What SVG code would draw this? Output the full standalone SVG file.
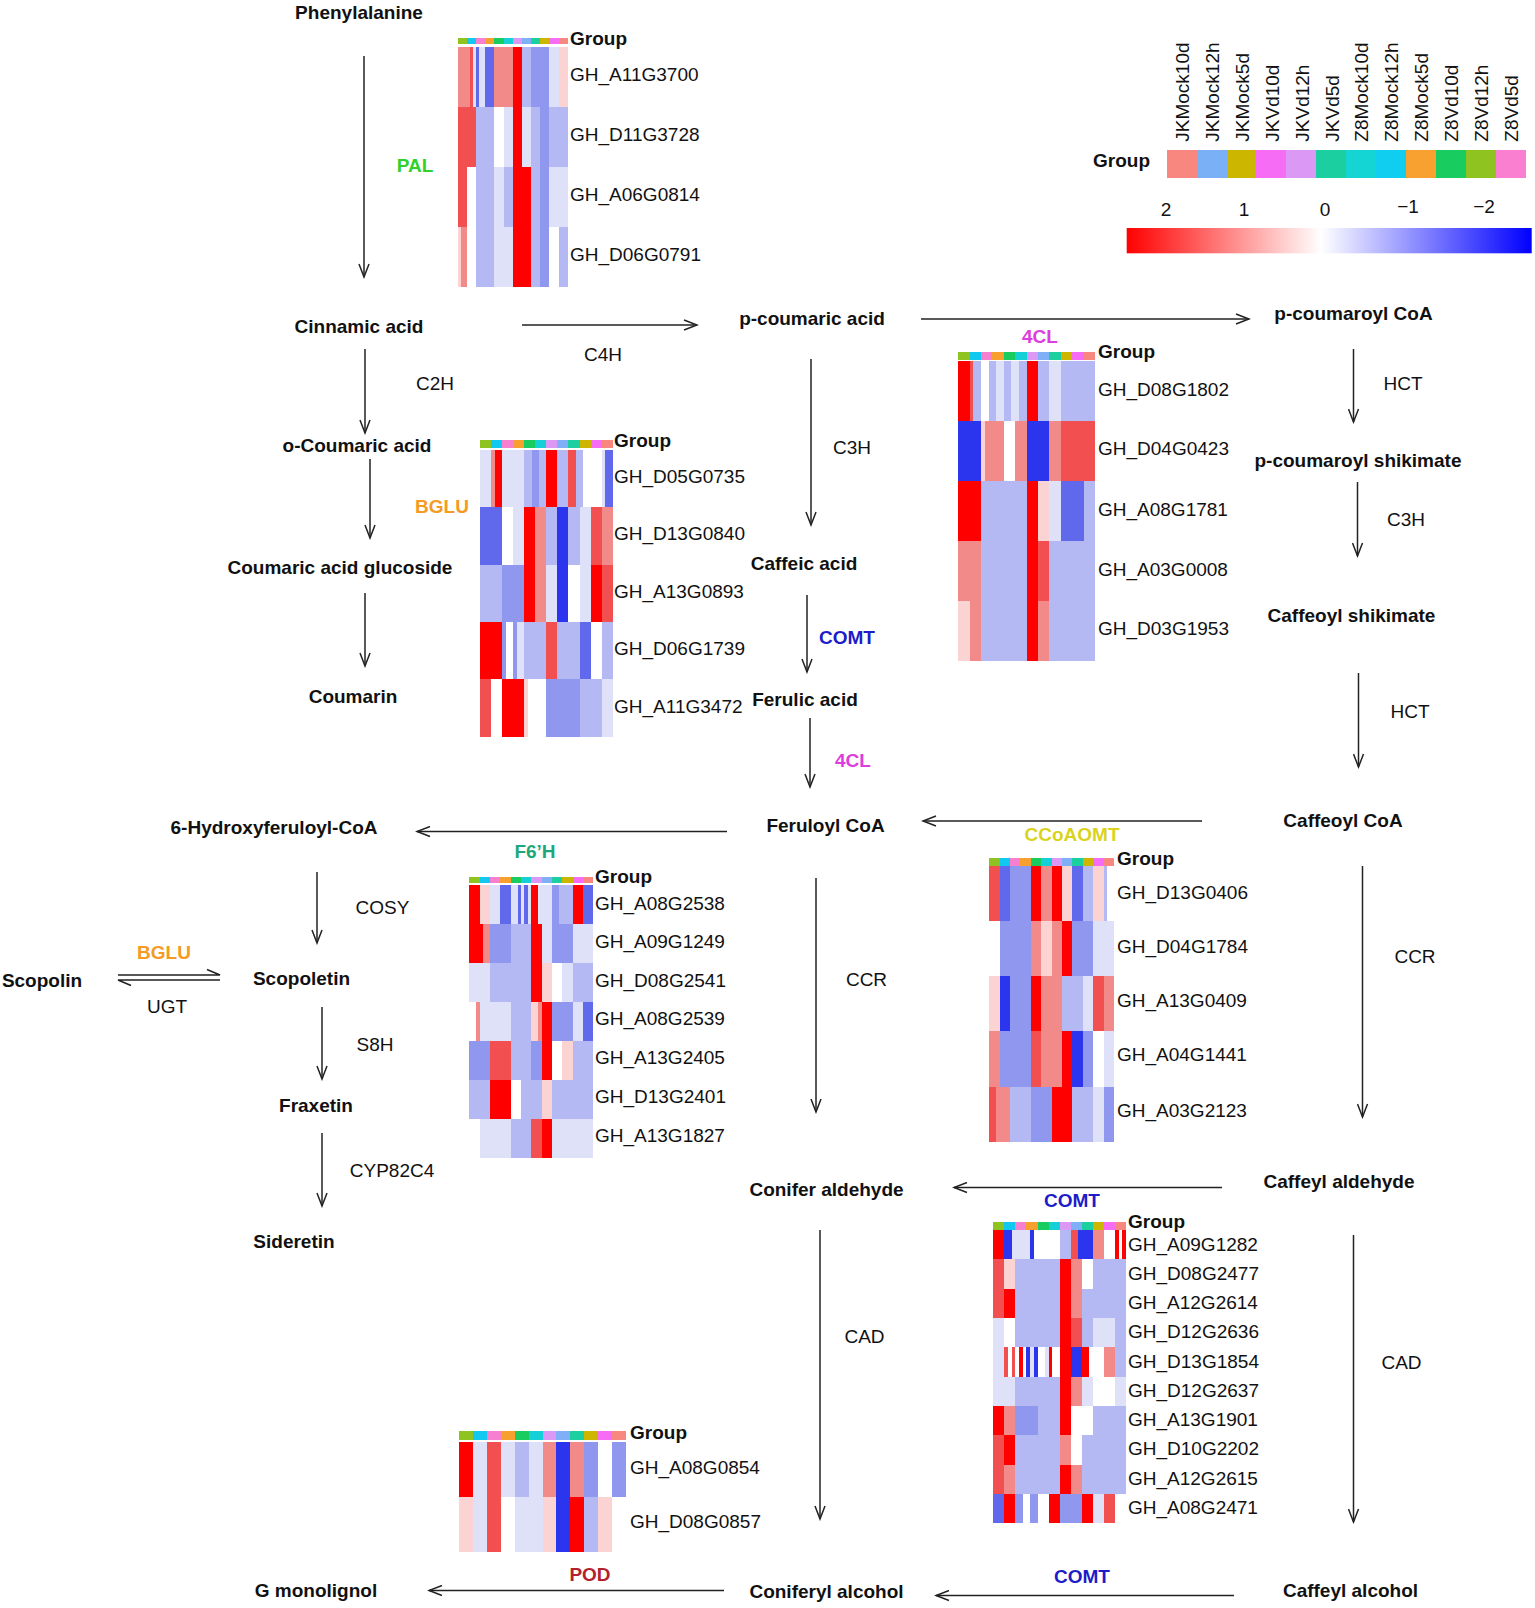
<svg xmlns="http://www.w3.org/2000/svg" xmlns:xlink="http://www.w3.org/1999/xlink" width="1535" height="1608" viewBox="0 0 1535 1608">
<style>
text{font-family:"Liberation Sans",Arial,sans-serif;font-size:19px;fill:#111}
.n{font-weight:bold;text-anchor:middle}
.e{text-anchor:middle}
.ec{font-weight:bold;text-anchor:middle}
.gt{font-weight:bold}
.arr{stroke:#222;stroke-width:1.5;fill:none;marker-end:url(#ah)}
.ln{stroke:#222;stroke-width:1.5;fill:none}
.hm{shape-rendering:crispEdges}
.R{fill:#ff0000}.r{fill:#f25050}.p{fill:#f38a8a}.q{fill:#fbd3d3}.w{fill:#ffffff}
.l{fill:#dfe1f8}.b{fill:#b4b9f3}.m{fill:#9097ef}.M{fill:#6068ec}.B{fill:#2b35ee}
</style>
<defs>
<marker id="ah" markerUnits="userSpaceOnUse" markerWidth="16" markerHeight="12" refX="14" refY="6" orient="auto">
<path d="M1,1 L14,6 L1,11" fill="none" stroke="#222" stroke-width="1.5"/>
</marker>
<g id="gb" shape-rendering="crispEdges">
<rect x="0" y="0" width="3" height="1" fill="#8fc31f"/>
<rect x="3" y="0" width="3" height="1" fill="#10c8f0"/>
<rect x="6" y="0" width="3" height="1" fill="#f77fd0"/>
<rect x="9" y="0" width="3" height="1" fill="#f7a030"/>
<rect x="12" y="0" width="3" height="1" fill="#18cc60"/>
<rect x="15" y="0" width="3" height="1" fill="#16d0d8"/>
<rect x="18" y="0" width="3" height="1" fill="#dc98f5"/>
<rect x="21" y="0" width="3" height="1" fill="#7fb0f7"/>
<rect x="24" y="0" width="3" height="1" fill="#1ccfa0"/>
<rect x="27" y="0" width="3" height="1" fill="#cdb600"/>
<rect x="30" y="0" width="3" height="1" fill="#f76cf5"/>
<rect x="33" y="0" width="3" height="1" fill="#f8877f"/>
</g>
<linearGradient id="cs" x1="0" y1="0" x2="1" y2="0">
<stop offset="0" stop-color="#ff0000"/>
<stop offset="0.48" stop-color="#ffffff"/>
<stop offset="1" stop-color="#0000ff"/>
</linearGradient>
</defs>

<!-- legend -->
<g id="legend">
<text class="gt" x="1093" y="167">Group</text>
<g shape-rendering="crispEdges">
<rect x="1166.7" y="150" width="29.9" height="28.3" fill="#f8877f"/>
<rect x="1196.6" y="150" width="29.9" height="28.3" fill="#7ab0f5"/>
<rect x="1226.5" y="150" width="29.9" height="28.3" fill="#cdb600"/>
<rect x="1256.4" y="150" width="29.9" height="28.3" fill="#f76cf5"/>
<rect x="1286.3" y="150" width="29.9" height="28.3" fill="#dc98f5"/>
<rect x="1316.2" y="150" width="29.9" height="28.3" fill="#1ccfa0"/>
<rect x="1346.1" y="150" width="29.9" height="28.3" fill="#14d4d4"/>
<rect x="1376" y="150" width="29.9" height="28.3" fill="#10cef0"/>
<rect x="1405.9" y="150" width="29.9" height="28.3" fill="#f8a030"/>
<rect x="1435.8" y="150" width="29.9" height="28.3" fill="#18cc60"/>
<rect x="1465.7" y="150" width="29.9" height="28.3" fill="#8fc31f"/>
<rect x="1495.6" y="150" width="29.9" height="28.3" fill="#fb7fd0"/>
</g>
<text transform="translate(1189,141.7) rotate(-90)">JKMock10d</text>
<text transform="translate(1219,141.7) rotate(-90)">JKMock12h</text>
<text transform="translate(1249,141.7) rotate(-90)">JKMock5d</text>
<text transform="translate(1278.5,141.7) rotate(-90)">JKVd10d</text>
<text transform="translate(1308.5,141.7) rotate(-90)">JKVd12h</text>
<text transform="translate(1338.5,141.7) rotate(-90)">JKVd5d</text>
<text transform="translate(1368,141.7) rotate(-90)">Z8Mock10d</text>
<text transform="translate(1398,141.7) rotate(-90)">Z8Mock12h</text>
<text transform="translate(1428,141.7) rotate(-90)">Z8Mock5d</text>
<text transform="translate(1457.5,141.7) rotate(-90)">Z8Vd10d</text>
<text transform="translate(1487.5,141.7) rotate(-90)">Z8Vd12h</text>
<text transform="translate(1517.5,141.7) rotate(-90)">Z8Vd5d</text>
<text class="e" x="1166" y="216">2</text>
<text class="e" x="1244" y="216">1</text>
<text class="e" x="1325" y="216">0</text>
<text class="e" x="1408" y="213">−1</text>
<text class="e" x="1484" y="213">−2</text>
<rect x="1126.7" y="228" width="405" height="25.3" fill="url(#cs)"/>
</g>

<!-- heatmaps -->
<g id="hm-pal">
<use href="#gb" transform="translate(457.7,38.3) scale(3.056,6)"/>
<g class="hm" transform="translate(457.7,46.7) scale(3.056,60)">
<rect x="0" y="0" width="4" height="1" class="p"/><rect x="4" y="0" width="1" height="1" class="r"/><rect x="5" y="0" width="1" height="1" class="l"/><rect x="6" y="0" width="1" height="1" class="M"/><rect x="7" y="0" width="2" height="1" class="l"/><rect x="9" y="0" width="3" height="1" class="M"/><rect x="12" y="0" width="6" height="1" class="p"/><rect x="18" y="0" width="3" height="1" class="R"/><rect x="21" y="0" width="3" height="1" class="b"/><rect x="24" y="0" width="6" height="1" class="m"/><rect x="30" y="0" width="3" height="1" class="l"/><rect x="33" y="0" width="3" height="1" class="q"/>
<rect x="0" y="1" width="6" height="1" class="r"/><rect x="6" y="1" width="6" height="1" class="b"/><rect x="12" y="1" width="3" height="1" class="w"/><rect x="15" y="1" width="3" height="1" class="l"/><rect x="18" y="1" width="3" height="1" class="R"/><rect x="21" y="1" width="3" height="1" class="l"/><rect x="24" y="1" width="3" height="1" class="b"/><rect x="27" y="1" width="3" height="1" class="m"/><rect x="30" y="1" width="6" height="1" class="b"/>
<rect x="0" y="2" width="3" height="1" class="r"/><rect x="3" y="2" width="3" height="1" class="w"/><rect x="6" y="2" width="6" height="1" class="b"/><rect x="12" y="2" width="3" height="1" class="l"/><rect x="15" y="2" width="3" height="1" class="b"/><rect x="18" y="2" width="6" height="1" class="R"/><rect x="24" y="2" width="3" height="1" class="b"/><rect x="27" y="2" width="3" height="1" class="m"/><rect x="30" y="2" width="6" height="1" class="l"/>
<rect x="0" y="3" width="1" height="1" class="q"/><rect x="1" y="3" width="2" height="1" class="p"/><rect x="3" y="3" width="3" height="1" class="w"/><rect x="6" y="3" width="6" height="1" class="b"/><rect x="12" y="3" width="6" height="1" class="l"/><rect x="18" y="3" width="6" height="1" class="R"/><rect x="24" y="3" width="3" height="1" class="b"/><rect x="27" y="3" width="3" height="1" class="m"/><rect x="30" y="3" width="3" height="1" class="w"/><rect x="33" y="3" width="3" height="1" class="b"/>
</g>
<text class="gt" x="570" y="45">Group</text>
<text x="570" y="81">GH_A11G3700</text>
<text x="570" y="141">GH_D11G3728</text>
<text x="570" y="201">GH_A06G0814</text>
<text x="570" y="261">GH_D06G0791</text>
</g>

<g id="hm-bglu">
<use href="#gb" transform="translate(480,440) scale(3.686,8.3)"/>
<g class="hm" transform="translate(480,450) scale(3.686,57.33)">
<rect x="0" y="0" width="3" height="1" class="l"/><rect x="3" y="0" width="1" height="1" class="p"/><rect x="4" y="0" width="2" height="1" class="R"/><rect x="6" y="0" width="6" height="1" class="l"/><rect x="12" y="0" width="2" height="1" class="b"/><rect x="14" y="0" width="2" height="1" class="m"/><rect x="16" y="0" width="2" height="1" class="b"/><rect x="18" y="0" width="3" height="1" class="R"/><rect x="21" y="0" width="3" height="1" class="b"/><rect x="24" y="0" width="2" height="1" class="r"/><rect x="26" y="0" width="2" height="1" class="b"/><rect x="28" y="0" width="5" height="1" class="w"/><rect x="33" y="0" width="1" height="1" class="l"/><rect x="34" y="0" width="2" height="1" class="M"/>
<rect x="0" y="1" width="6" height="1" class="M"/><rect x="6" y="1" width="3" height="1" class="w"/><rect x="9" y="1" width="3" height="1" class="l"/><rect x="12" y="1" width="3" height="1" class="R"/><rect x="15" y="1" width="3" height="1" class="p"/><rect x="18" y="1" width="3" height="1" class="b"/><rect x="21" y="1" width="3" height="1" class="B"/><rect x="24" y="1" width="3" height="1" class="b"/><rect x="27" y="1" width="3" height="1" class="l"/><rect x="30" y="1" width="3" height="1" class="r"/><rect x="33" y="1" width="3" height="1" class="p"/>
<rect x="0" y="2" width="6" height="1" class="b"/><rect x="6" y="2" width="6" height="1" class="m"/><rect x="12" y="2" width="3" height="1" class="R"/><rect x="15" y="2" width="3" height="1" class="p"/><rect x="18" y="2" width="3" height="1" class="l"/><rect x="21" y="2" width="3" height="1" class="B"/><rect x="24" y="2" width="3" height="1" class="w"/><rect x="27" y="2" width="3" height="1" class="l"/><rect x="30" y="2" width="3" height="1" class="R"/><rect x="33" y="2" width="3" height="1" class="r"/>
<rect x="0" y="3" width="6" height="1" class="R"/><rect x="6" y="3" width="1" height="1" class="m"/><rect x="7" y="3" width="2" height="1" class="w"/><rect x="9" y="3" width="1" height="1" class="m"/><rect x="10" y="3" width="2" height="1" class="l"/><rect x="12" y="3" width="6" height="1" class="b"/><rect x="18" y="3" width="3" height="1" class="r"/><rect x="21" y="3" width="6" height="1" class="b"/><rect x="27" y="3" width="3" height="1" class="M"/><rect x="30" y="3" width="3" height="1" class="w"/><rect x="33" y="3" width="3" height="1" class="b"/>
<rect x="0" y="4" width="3" height="1" class="r"/><rect x="3" y="4" width="3" height="1" class="w"/><rect x="6" y="4" width="6" height="1" class="R"/><rect x="12" y="4" width="1" height="1" class="q"/><rect x="13" y="4" width="5" height="1" class="w"/><rect x="18" y="4" width="9" height="1" class="m"/><rect x="27" y="4" width="6" height="1" class="b"/><rect x="33" y="4" width="3" height="1" class="l"/>
</g>
<text class="gt" x="614" y="447">Group</text>
<text x="614" y="483">GH_D05G0735</text>
<text x="614" y="540">GH_D13G0840</text>
<text x="614" y="598">GH_A13G0893</text>
<text x="614" y="655">GH_D06G1739</text>
<text x="614" y="713">GH_A11G3472</text>
</g>

<g id="hm-4cl">
<use href="#gb" transform="translate(958.3,351.7) scale(3.797,8.5)"/>
<g class="hm" transform="translate(958.3,361) scale(3.797,60)">
<rect x="0" y="0" width="3" height="1" class="R"/><rect x="3" y="0" width="1" height="1" class="r"/><rect x="4" y="0" width="2" height="1" class="b"/><rect x="6" y="0" width="2" height="1" class="w"/><rect x="8" y="0" width="2" height="1" class="b"/><rect x="10" y="0" width="2" height="1" class="l"/><rect x="12" y="0" width="2" height="1" class="b"/><rect x="14" y="0" width="2" height="1" class="l"/><rect x="16" y="0" width="2" height="1" class="b"/><rect x="18" y="0" width="3" height="1" class="R"/><rect x="21" y="0" width="3" height="1" class="b"/><rect x="24" y="0" width="3" height="1" class="l"/><rect x="27" y="0" width="9" height="1" class="b"/>
<rect x="0" y="1" width="6" height="1" class="B"/><rect x="6" y="1" width="1" height="1" class="q"/><rect x="7" y="1" width="5" height="1" class="p"/><rect x="12" y="1" width="3" height="1" class="w"/><rect x="15" y="1" width="3" height="1" class="p"/><rect x="18" y="1" width="6" height="1" class="B"/><rect x="24" y="1" width="3" height="1" class="p"/><rect x="27" y="1" width="9" height="1" class="r"/>
<rect x="0" y="2" width="6" height="1" class="R"/><rect x="6" y="2" width="12" height="1" class="b"/><rect x="18" y="2" width="3" height="1" class="R"/><rect x="21" y="2" width="3" height="1" class="q"/><rect x="24" y="2" width="3" height="1" class="l"/><rect x="27" y="2" width="6" height="1" class="M"/><rect x="33" y="2" width="3" height="1" class="b"/>
<rect x="0" y="3" width="6" height="1" class="p"/><rect x="6" y="3" width="12" height="1" class="b"/><rect x="18" y="3" width="3" height="1" class="R"/><rect x="21" y="3" width="3" height="1" class="r"/><rect x="24" y="3" width="12" height="1" class="b"/>
<rect x="0" y="4" width="3" height="1" class="q"/><rect x="3" y="4" width="3" height="1" class="p"/><rect x="6" y="4" width="12" height="1" class="b"/><rect x="18" y="4" width="3" height="1" class="R"/><rect x="21" y="4" width="3" height="1" class="p"/><rect x="24" y="4" width="12" height="1" class="b"/>
</g>
<text class="ec" x="1040" y="343" style="fill:#dd3ddd">4CL</text>
<text class="gt" x="1098" y="358">Group</text>
<text x="1098" y="396">GH_D08G1802</text>
<text x="1098" y="455">GH_D04G0423</text>
<text x="1098" y="516">GH_A08G1781</text>
<text x="1098" y="576">GH_A03G0008</text>
<text x="1098" y="635">GH_D03G1953</text>
</g>

<g id="hm-f6h">
<use href="#gb" transform="translate(469.3,876.7) scale(3.444,6.5)"/>
<g class="hm" transform="translate(469.3,885) scale(3.444,39.05)">
<rect x="0" y="0" width="3" height="1" class="R"/><rect x="3" y="0" width="3" height="1" class="q"/><rect x="6" y="0" width="3" height="1" class="l"/><rect x="9" y="0" width="3" height="1" class="M"/><rect x="12" y="0" width="2" height="1" class="l"/><rect x="14" y="0" width="1" height="1" class="M"/><rect x="15" y="0" width="1" height="1" class="l"/><rect x="16" y="0" width="1" height="1" class="M"/><rect x="17" y="0" width="1" height="1" class="l"/><rect x="18" y="0" width="2" height="1" class="R"/><rect x="20" y="0" width="4" height="1" class="l"/><rect x="24" y="0" width="2" height="1" class="m"/><rect x="26" y="0" width="4" height="1" class="b"/><rect x="30" y="0" width="3" height="1" class="R"/><rect x="33" y="0" width="3" height="1" class="M"/>
<rect x="0" y="1" width="4" height="1" class="R"/><rect x="4" y="1" width="2" height="1" class="p"/><rect x="6" y="1" width="6" height="1" class="m"/><rect x="12" y="1" width="6" height="1" class="b"/><rect x="18" y="1" width="3" height="1" class="R"/><rect x="21" y="1" width="3" height="1" class="l"/><rect x="24" y="1" width="6" height="1" class="m"/><rect x="30" y="1" width="6" height="1" class="l"/>
<rect x="0" y="2" width="6" height="1" class="l"/><rect x="6" y="2" width="12" height="1" class="b"/><rect x="18" y="2" width="3" height="1" class="R"/><rect x="21" y="2" width="3" height="1" class="q"/><rect x="24" y="2" width="3" height="1" class="w"/><rect x="27" y="2" width="3" height="1" class="l"/><rect x="30" y="2" width="6" height="1" class="b"/>
<rect x="0" y="3" width="2" height="1" class="w"/><rect x="2" y="3" width="1" height="1" class="p"/><rect x="3" y="3" width="9" height="1" class="l"/><rect x="12" y="3" width="6" height="1" class="b"/><rect x="18" y="3" width="2" height="1" class="q"/><rect x="20" y="3" width="1" height="1" class="p"/><rect x="21" y="3" width="3" height="1" class="R"/><rect x="24" y="3" width="6" height="1" class="m"/><rect x="30" y="3" width="3" height="1" class="l"/><rect x="33" y="3" width="3" height="1" class="M"/>
<rect x="0" y="4" width="6" height="1" class="m"/><rect x="6" y="4" width="6" height="1" class="r"/><rect x="12" y="4" width="6" height="1" class="b"/><rect x="18" y="4" width="3" height="1" class="m"/><rect x="21" y="4" width="3" height="1" class="R"/><rect x="24" y="4" width="3" height="1" class="w"/><rect x="27" y="4" width="3" height="1" class="q"/><rect x="30" y="4" width="6" height="1" class="b"/>
<rect x="0" y="5" width="6" height="1" class="b"/><rect x="6" y="5" width="6" height="1" class="R"/><rect x="12" y="5" width="3" height="1" class="w"/><rect x="15" y="5" width="6" height="1" class="b"/><rect x="21" y="5" width="3" height="1" class="q"/><rect x="24" y="5" width="12" height="1" class="b"/>
<rect x="0" y="6" width="3" height="1" class="w"/><rect x="3" y="6" width="9" height="1" class="l"/><rect x="12" y="6" width="6" height="1" class="b"/><rect x="18" y="6" width="3" height="1" class="r"/><rect x="21" y="6" width="3" height="1" class="R"/><rect x="24" y="6" width="12" height="1" class="l"/>
</g>
<text class="ec" x="535" y="858" style="fill:#1fa77c">F6’H</text>
<text class="gt" x="595" y="883">Group</text>
<text x="595" y="910">GH_A08G2538</text>
<text x="595" y="948">GH_A09G1249</text>
<text x="595" y="987">GH_D08G2541</text>
<text x="595" y="1025">GH_A08G2539</text>
<text x="595" y="1064">GH_A13G2405</text>
<text x="595" y="1103">GH_D13G2401</text>
<text x="595" y="1142">GH_A13G1827</text>
</g>

<g id="hm-ccoaomt">
<use href="#gb" transform="translate(989.3,858) scale(3.464,7.5)"/>
<g class="hm" transform="translate(989.3,866) scale(3.464,55.14)">
<rect x="0" y="0" width="3" height="1" class="r"/><rect x="3" y="0" width="3" height="1" class="M"/><rect x="6" y="0" width="6" height="1" class="m"/><rect x="12" y="0" width="3" height="1" class="R"/><rect x="15" y="0" width="3" height="1" class="p"/><rect x="18" y="0" width="3" height="1" class="R"/><rect x="21" y="0" width="3" height="1" class="q"/><rect x="24" y="0" width="3" height="1" class="M"/><rect x="27" y="0" width="3" height="1" class="b"/><rect x="30" y="0" width="3" height="1" class="q"/><rect x="33" y="0" width="1" height="1" class="b"/><rect x="34" y="0" width="2" height="1" class="w"/>
<rect x="0" y="1" width="3" height="1" class="w"/><rect x="3" y="1" width="9" height="1" class="m"/><rect x="12" y="1" width="3" height="1" class="p"/><rect x="15" y="1" width="3" height="1" class="q"/><rect x="18" y="1" width="3" height="1" class="p"/><rect x="21" y="1" width="3" height="1" class="R"/><rect x="24" y="1" width="6" height="1" class="m"/><rect x="30" y="1" width="6" height="1" class="l"/>
<rect x="0" y="2" width="3" height="1" class="q"/><rect x="3" y="2" width="3" height="1" class="B"/><rect x="6" y="2" width="6" height="1" class="m"/><rect x="12" y="2" width="3" height="1" class="R"/><rect x="15" y="2" width="6" height="1" class="p"/><rect x="21" y="2" width="6" height="1" class="b"/><rect x="27" y="2" width="3" height="1" class="l"/><rect x="30" y="2" width="3" height="1" class="r"/><rect x="33" y="2" width="3" height="1" class="p"/>
<rect x="0" y="3" width="3" height="1" class="p"/><rect x="3" y="3" width="9" height="1" class="m"/><rect x="12" y="3" width="3" height="1" class="r"/><rect x="15" y="3" width="6" height="1" class="p"/><rect x="21" y="3" width="3" height="1" class="R"/><rect x="24" y="3" width="3" height="1" class="B"/><rect x="27" y="3" width="3" height="1" class="m"/><rect x="30" y="3" width="3" height="1" class="w"/><rect x="33" y="3" width="3" height="1" class="l"/>
<rect x="0" y="4" width="2" height="1" class="r"/><rect x="2" y="4" width="4" height="1" class="p"/><rect x="6" y="4" width="6" height="1" class="b"/><rect x="12" y="4" width="6" height="1" class="m"/><rect x="18" y="4" width="6" height="1" class="R"/><rect x="24" y="4" width="6" height="1" class="b"/><rect x="30" y="4" width="3" height="1" class="l"/><rect x="33" y="4" width="3" height="1" class="m"/>
</g>
<text class="ec" x="1072" y="841" style="fill:#d9d31e">CCoAOMT</text>
<text class="gt" x="1117" y="865">Group</text>
<text x="1117" y="899">GH_D13G0406</text>
<text x="1117" y="953">GH_D04G1784</text>
<text x="1117" y="1007">GH_A13G0409</text>
<text x="1117" y="1061">GH_A04G1441</text>
<text x="1117" y="1117">GH_A03G2123</text>
</g>

<g id="hm-comt">
<use href="#gb" transform="translate(993.3,1221.5) scale(3.686,8)"/>
<g class="hm" transform="translate(993.3,1230) scale(3.686,29.33)">
<rect x="0" y="0" width="3" height="1" class="R"/><rect x="3" y="0" width="2" height="1" class="B"/><rect x="5" y="0" width="5" height="1" class="l"/><rect x="10" y="0" width="1" height="1" class="B"/><rect x="11" y="0" width="7" height="1" class="w"/><rect x="18" y="0" width="3" height="1" class="b"/><rect x="21" y="0" width="2" height="1" class="r"/><rect x="23" y="0" width="4" height="1" class="B"/><rect x="27" y="0" width="3" height="1" class="p"/><rect x="30" y="0" width="3" height="1" class="w"/><rect x="33" y="0" width="1" height="1" class="R"/><rect x="34" y="0" width="1" height="1" class="w"/><rect x="35" y="0" width="1" height="1" class="R"/>
<rect x="0" y="1" width="3" height="1" class="r"/><rect x="3" y="1" width="3" height="1" class="q"/><rect x="6" y="1" width="12" height="1" class="b"/><rect x="18" y="1" width="3" height="1" class="R"/><rect x="21" y="1" width="3" height="1" class="p"/><rect x="24" y="1" width="3" height="1" class="w"/><rect x="27" y="1" width="9" height="1" class="b"/>
<rect x="0" y="2" width="3" height="1" class="r"/><rect x="3" y="2" width="3" height="1" class="R"/><rect x="6" y="2" width="12" height="1" class="b"/><rect x="18" y="2" width="3" height="1" class="R"/><rect x="21" y="2" width="3" height="1" class="p"/><rect x="24" y="2" width="12" height="1" class="b"/>
<rect x="0" y="3" width="3" height="1" class="l"/><rect x="3" y="3" width="3" height="1" class="w"/><rect x="6" y="3" width="12" height="1" class="b"/><rect x="18" y="3" width="3" height="1" class="R"/><rect x="21" y="3" width="3" height="1" class="r"/><rect x="24" y="3" width="3" height="1" class="b"/><rect x="27" y="3" width="6" height="1" class="l"/><rect x="33" y="3" width="3" height="1" class="b"/>
<rect x="0" y="4" width="3" height="1" class="l"/><rect x="3" y="4" width="1" height="1" class="r"/><rect x="4" y="4" width="1" height="1" class="w"/><rect x="5" y="4" width="1" height="1" class="r"/><rect x="6" y="4" width="1" height="1" class="w"/><rect x="7" y="4" width="1" height="1" class="R"/><rect x="8" y="4" width="1" height="1" class="w"/><rect x="9" y="4" width="1" height="1" class="B"/><rect x="10" y="4" width="1" height="1" class="l"/><rect x="11" y="4" width="1" height="1" class="B"/><rect x="12" y="4" width="2" height="1" class="w"/><rect x="14" y="4" width="1" height="1" class="l"/><rect x="15" y="4" width="1" height="1" class="R"/><rect x="16" y="4" width="2" height="1" class="w"/><rect x="18" y="4" width="3" height="1" class="R"/><rect x="21" y="4" width="3" height="1" class="B"/><rect x="24" y="4" width="2" height="1" class="R"/><rect x="26" y="4" width="4" height="1" class="w"/><rect x="30" y="4" width="3" height="1" class="p"/><rect x="33" y="4" width="3" height="1" class="b"/>
<rect x="0" y="5" width="6" height="1" class="l"/><rect x="6" y="5" width="12" height="1" class="b"/><rect x="18" y="5" width="3" height="1" class="R"/><rect x="21" y="5" width="3" height="1" class="p"/><rect x="24" y="5" width="3" height="1" class="l"/><rect x="27" y="5" width="6" height="1" class="w"/><rect x="33" y="5" width="3" height="1" class="l"/>
<rect x="0" y="6" width="3" height="1" class="R"/><rect x="3" y="6" width="3" height="1" class="p"/><rect x="6" y="6" width="6" height="1" class="m"/><rect x="12" y="6" width="6" height="1" class="b"/><rect x="18" y="6" width="3" height="1" class="R"/><rect x="21" y="6" width="6" height="1" class="w"/><rect x="27" y="6" width="9" height="1" class="b"/>
<rect x="0" y="7" width="3" height="1" class="r"/><rect x="3" y="7" width="3" height="1" class="R"/><rect x="6" y="7" width="12" height="1" class="b"/><rect x="18" y="7" width="3" height="1" class="p"/><rect x="21" y="7" width="3" height="1" class="w"/><rect x="24" y="7" width="12" height="1" class="b"/>
<rect x="0" y="8" width="3" height="1" class="r"/><rect x="3" y="8" width="3" height="1" class="p"/><rect x="6" y="8" width="12" height="1" class="b"/><rect x="18" y="8" width="3" height="1" class="R"/><rect x="21" y="8" width="3" height="1" class="p"/><rect x="24" y="8" width="12" height="1" class="b"/>
<rect x="0" y="9" width="3" height="1" class="M"/><rect x="3" y="9" width="3" height="1" class="R"/><rect x="6" y="9" width="2" height="1" class="m"/><rect x="8" y="9" width="2" height="1" class="w"/><rect x="10" y="9" width="2" height="1" class="m"/><rect x="12" y="9" width="3" height="1" class="w"/><rect x="15" y="9" width="3" height="1" class="R"/><rect x="18" y="9" width="6" height="1" class="m"/><rect x="24" y="9" width="3" height="1" class="R"/><rect x="27" y="9" width="3" height="1" class="l"/><rect x="30" y="9" width="3" height="1" class="r"/><rect x="33" y="9" width="3" height="1" class="w"/>
</g>
<text class="ec" x="1072" y="1207" style="fill:#1c1cc8">COMT</text>
<text class="gt" x="1128" y="1228">Group</text>
<text x="1128" y="1251">GH_A09G1282</text>
<text x="1128" y="1280">GH_D08G2477</text>
<text x="1128" y="1309">GH_A12G2614</text>
<text x="1128" y="1338">GH_D12G2636</text>
<text x="1128" y="1368">GH_D13G1854</text>
<text x="1128" y="1397">GH_D12G2637</text>
<text x="1128" y="1426">GH_A13G1901</text>
<text x="1128" y="1455">GH_D10G2202</text>
<text x="1128" y="1485">GH_A12G2615</text>
<text x="1128" y="1514">GH_A08G2471</text>
</g>

<g id="hm-pod">
<use href="#gb" transform="translate(459,1430.7) scale(4.639,9.3)"/>
<g class="hm" transform="translate(459,1442) scale(4.639,55)">
<rect x="0" y="0" width="3" height="1" class="R"/><rect x="3" y="0" width="3" height="1" class="l"/><rect x="6" y="0" width="3" height="1" class="r"/><rect x="9" y="0" width="3" height="1" class="l"/><rect x="12" y="0" width="3" height="1" class="b"/><rect x="15" y="0" width="3" height="1" class="l"/><rect x="18" y="0" width="3" height="1" class="p"/><rect x="21" y="0" width="3" height="1" class="B"/><rect x="24" y="0" width="3" height="1" class="p"/><rect x="27" y="0" width="3" height="1" class="m"/><rect x="30" y="0" width="3" height="1" class="w"/><rect x="33" y="0" width="3" height="1" class="m"/>
<rect x="0" y="1" width="3" height="1" class="q"/><rect x="3" y="1" width="3" height="1" class="l"/><rect x="6" y="1" width="3" height="1" class="r"/><rect x="9" y="1" width="3" height="1" class="w"/><rect x="12" y="1" width="6" height="1" class="l"/><rect x="18" y="1" width="3" height="1" class="q"/><rect x="21" y="1" width="3" height="1" class="B"/><rect x="24" y="1" width="3" height="1" class="R"/><rect x="27" y="1" width="3" height="1" class="b"/><rect x="30" y="1" width="3" height="1" class="q"/><rect x="33" y="1" width="3" height="1" class="w"/>
</g>
<text class="gt" x="630" y="1439">Group</text>
<text x="630" y="1474">GH_A08G0854</text>
<text x="630" y="1528">GH_D08G0857</text>
</g>

<!-- connectors -->
<g id="connectors">
<line class="arr" x1="364" y1="56" x2="364" y2="277"/>
<line class="arr" x1="365" y1="349" x2="365" y2="433"/>
<line class="arr" x1="370" y1="459" x2="370" y2="538"/>
<line class="arr" x1="365" y1="593" x2="365" y2="666"/>
<line class="arr" x1="811" y1="359" x2="811" y2="525"/>
<line class="arr" x1="807" y1="595" x2="807" y2="672"/>
<line class="arr" x1="810" y1="718" x2="810" y2="787"/>
<line class="arr" x1="1353.5" y1="349" x2="1353.5" y2="422"/>
<line class="arr" x1="1357.5" y1="482" x2="1357.5" y2="556"/>
<line class="arr" x1="1358.5" y1="673" x2="1358.5" y2="767"/>
<line class="arr" x1="317" y1="872" x2="317" y2="943"/>
<line class="arr" x1="322" y1="1007" x2="322" y2="1079"/>
<line class="arr" x1="322" y1="1133" x2="322" y2="1206"/>
<line class="arr" x1="816" y1="878" x2="816" y2="1112"/>
<line class="arr" x1="1362.5" y1="866" x2="1362.5" y2="1117"/>
<line class="arr" x1="820" y1="1230" x2="820" y2="1519"/>
<line class="arr" x1="1353.5" y1="1235" x2="1353.5" y2="1522"/>
<line class="arr" x1="522" y1="325" x2="697" y2="325"/>
<line class="arr" x1="921" y1="319" x2="1249" y2="319"/>
<line class="arr" x1="1202" y1="821" x2="923" y2="821"/>
<line class="arr" x1="727" y1="831.5" x2="417" y2="831.5"/>
<line class="arr" x1="1222" y1="1187.5" x2="954" y2="1187.5"/>
<line class="arr" x1="1234" y1="1595.5" x2="936" y2="1595.5"/>
<line class="arr" x1="724" y1="1590.5" x2="429" y2="1590.5"/>
<path class="ln" d="M118,975 H220 L207,969.5"/>
<path class="ln" d="M220,980 H118 L131,985.5"/>
</g>

<!-- enzyme labels -->
<g id="enzymes">
<text class="e" x="603" y="361">C4H</text>
<text class="e" x="435" y="390">C2H</text>
<text class="e" x="852" y="454">C3H</text>
<text class="e" x="1403" y="390">HCT</text>
<text class="e" x="1406" y="526">C3H</text>
<text class="e" x="1410" y="718">HCT</text>
<text class="e" x="382.5" y="914">COSY</text>
<text class="e" x="167" y="1013">UGT</text>
<text class="e" x="375" y="1051">S8H</text>
<text class="e" x="392" y="1177">CYP82C4</text>
<text class="e" x="866.5" y="986">CCR</text>
<text class="e" x="1415" y="963">CCR</text>
<text class="e" x="864.5" y="1343">CAD</text>
<text class="e" x="1401.5" y="1369">CAD</text>
<text class="ec" x="415" y="172" style="fill:#31d12c">PAL</text>
<text class="ec" x="442" y="513" style="fill:#f59a23">BGLU</text>
<text class="ec" x="847" y="644" style="fill:#1c1cc8">COMT</text>
<text class="ec" x="853" y="767" style="fill:#dd3ddd">4CL</text>
<text class="ec" x="164" y="959" style="fill:#f59a23">BGLU</text>
<text class="ec" x="1082" y="1583" style="fill:#1c1cc8">COMT</text>
<text class="ec" x="590" y="1581" style="fill:#b5202e">POD</text>
</g>

<!-- nodes -->
<g id="n-phenylalanine"><text class="n" x="359" y="19">Phenylalanine</text></g>
<g id="n-cinnamic"><text class="n" x="359" y="333">Cinnamic acid</text></g>
<g id="n-pcoumaric"><text class="n" x="812" y="325">p-coumaric acid</text></g>
<g id="n-pcoumaroylcoa"><text class="n" x="1353.5" y="320">p-coumaroyl CoA</text></g>
<g id="n-ocoumaric"><text class="n" x="357" y="452">o-Coumaric acid</text></g>
<g id="n-glucoside"><text class="n" x="340" y="574">Coumaric acid glucoside</text></g>
<g id="n-coumarin"><text class="n" x="353" y="703">Coumarin</text></g>
<g id="n-caffeic"><text class="n" x="804" y="570">Caffeic acid</text></g>
<g id="n-ferulic"><text class="n" x="805" y="706">Ferulic acid</text></g>
<g id="n-pcoumaroylshik"><text class="n" x="1358" y="467">p-coumaroyl shikimate</text></g>
<g id="n-caffeoylshik"><text class="n" x="1351.5" y="622">Caffeoyl shikimate</text></g>
<g id="n-caffeoylcoa"><text class="n" x="1343" y="827">Caffeoyl CoA</text></g>
<g id="n-feruloylcoa"><text class="n" x="825.5" y="832">Feruloyl CoA</text></g>
<g id="n-hydroxyferuloyl"><text class="n" x="274" y="834">6-Hydroxyferuloyl-CoA</text></g>
<g id="n-scopolin"><text class="n" x="42" y="987">Scopolin</text></g>
<g id="n-scopoletin"><text class="n" x="301.5" y="985">Scopoletin</text></g>
<g id="n-fraxetin"><text class="n" x="316" y="1112">Fraxetin</text></g>
<g id="n-sideretin"><text class="n" x="294" y="1248">Sideretin</text></g>
<g id="n-coniferald"><text class="n" x="826.5" y="1196">Conifer aldehyde</text></g>
<g id="n-caffeylald"><text class="n" x="1339" y="1188">Caffeyl aldehyde</text></g>
<g id="n-coniferylalc"><text class="n" x="826.5" y="1598">Coniferyl alcohol</text></g>
<g id="n-caffeylalc"><text class="n" x="1350.5" y="1597">Caffeyl alcohol</text></g>
<g id="n-gmonolignol"><text class="n" x="316" y="1597">G monolignol</text></g>
</svg>
